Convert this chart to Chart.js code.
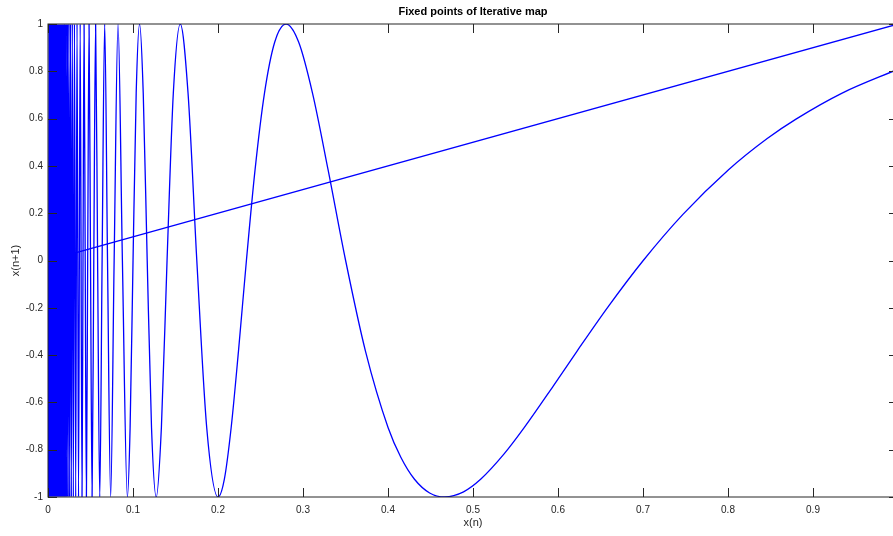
<!DOCTYPE html>
<html>
<head>
<meta charset="utf-8">
<script src="https://cdn.jsdelivr.net/npm/chart.js@4"></script>
<style>
    html, body { margin: 0; padding: 0; background: #fff; overflow: hidden; }
    #wrap { width: 893px; height: 536px; overflow: hidden; }
</style>
</head>
<body>
<div id="wrap"><canvas id="myChart" width="900" height="536"></canvas></div>
<script>
// x(n) values of the curve (ascending)
const mapX = [0.0006, 0.0012, 0.0018, 0.0024, 0.0030, 0.0036, 0.0042, 0.0048, 0.0054, 0.0060,
    0.0066, 0.0072, 0.0078, 0.0084, 0.0090, 0.0096, 0.0102, 0.0108, 0.0114, 0.0120,
    0.0126, 0.0132, 0.0138, 0.0144, 0.0150, 0.0156, 0.0162, 0.0168, 0.0174, 0.0180,
    0.0186, 0.0192,
    0.01973, 0.02030, 0.02090, 0.02155, 0.02223, 0.02296, 0.02374, 0.02457, 0.02546, 0.02643,
    0.02746, 0.02858, 0.02980, 0.03112, 0.03257, 0.03416, 0.03591, 0.03785, 0.04002,
    0.04119, 0.04244, 0.04377, 0.04518, 0.04669, 0.04830, 0.05002, 0.05187, 0.05387, 0.05602,
    0.05836, 0.06089, 0.06366, 0.06669, 0.07003, 0.07371, 0.07781, 0.08239, 0.08753, 0.09337,
    0.09659, 0.10004, 0.10375, 0.10774, 0.11205, 0.11671, 0.12179, 0.12732, 0.13339, 0.14006,
    0.14743, 0.15562, 0.16477, 0.17507, 0.18674, 0.20008,
    0.20749, 0.21547, 0.22409, 0.23343, 0.24358, 0.25465, 0.26677, 0.28011, 0.29486, 0.31124,
    0.32954, 0.35014, 0.37348, 0.40016, 0.41509, 0.43094, 0.44898, 0.46685, 0.48889, 0.50930,
    0.53659, 0.56022, 0.59459, 0.62247, 0.65910, 0.70028, 0.74698, 0.80032, 0.84615, 0.88000,
    0.93371, 1.00000];

// x(n+1) values of the curve
const mapY = [-1, 1, -1, 1, -1, 1, -1, 1, -1, 1,
    -1, 1, -1, 1, -1, 1, -1, 1, -1, 1,
    -1, 1, -1, 1, -1, 1, -1, 1, -1, 1,
    -1, 1,
    -1, 1, -1, 1, -1, 1, -1, 1, -1, 1,
    -1, 1, -1, 1, -1, 1, -1, 1, -1,
    0, 1, 0, -1, 0, 1, 0, -1, 0, 1,
    0, -1, 0, 1, 0, -1, 0, 1, 0, -1,
    -0.707, 0, 0.707, 1, 0.707, 0, -0.707, -1, -0.707, 0,
    0.707, 1, 0.707, 0, -0.707, -1,
    -0.924, -0.707, -0.383, 0, 0.383, 0.707, 0.924, 1, 0.924, 0.707,
    0.383, 0, -0.383, -0.707, -0.832, -0.924, -0.983, -1, -0.978, -0.924,
    -0.818, -0.707, -0.530, -0.383, -0.195, 0, 0.195, 0.383, 0.516, 0.598,
    0.707, 0.809];

// the diagonal x(n+1) = x(n)
const diagX = [0.03, 1];
const diagY = [0.03, 1];

// tick values
const xTicks = [0, 0.1, 0.2, 0.3, 0.4, 0.5, 0.6, 0.7, 0.8, 0.9, 1];
const yTicks = [-1, -0.8, -0.6, -0.4, -0.2, 0, 0.2, 0.4, 0.6, 0.8, 1];

const fontFamily = '"Liberation Sans", Arial, Helvetica, sans-serif';
const axisColor = '#262626';

// MATLAB style box with inward ticks on all four sides
const boxPlugin = {
    id: 'boxTicks',
    afterDatasetsDraw(chart) {
        const { ctx, chartArea: a, scales: { x, y } } = chart;
        ctx.save();
        ctx.strokeStyle = axisColor;
        ctx.lineWidth = 1;
        ctx.beginPath();
        xTicks.forEach(v => {
            const px = Math.round(x.getPixelForValue(v)) + 0.5;
            ctx.moveTo(px, a.bottom); ctx.lineTo(px, a.bottom - 9);
            ctx.moveTo(px, a.top); ctx.lineTo(px, a.top + 9);
        });
        yTicks.forEach(v => {
            const py = Math.round(y.getPixelForValue(v)) + 0.5;
            ctx.moveTo(a.left, py); ctx.lineTo(a.left + 9, py);
            ctx.moveTo(a.right, py); ctx.lineTo(a.right - 9, py);
        });
        ctx.stroke();
        ctx.strokeRect(a.left, a.top, a.right - a.left, a.bottom - a.top);
        ctx.restore();
    }
};

const ctx = document.getElementById('myChart').getContext('2d');

const myChart = new Chart(ctx, {
    type: 'scatter',
    data: {
        datasets: [
            {
                data: mapX.map((v, i) => ({ x: v, y: mapY[i] })),
                showLine: true,
                borderColor: '#0000ff',
                borderWidth: 1.3,
                pointRadius: 0,
                cubicInterpolationMode: 'monotone',
            },
            {
                data: diagX.map((v, i) => ({ x: v, y: diagY[i] })),
                showLine: true,
                borderColor: '#0000ff',
                borderWidth: 1.3,
                pointRadius: 0,
            },
        ],
    },
    options: {
        responsive: false,
        animation: false,
        devicePixelRatio: 1,
        layout: { padding: { top: 0, right: 2, bottom: 0, left: 0 } },
        plugins: {
            legend: { display: false },
            tooltip: { enabled: false },
            title: {
                display: true,
                text: 'Fixed points of Iterative map',
                fullSize: false,
                color: '#000',
                font: { family: fontFamily, size: 11, weight: 'bold' },
                padding: { top: 5, bottom: 5.8 },
            },
        },
        scales: {
            x: {
                type: 'linear',
                min: 0,
                max: 1,
                afterBuildTicks: s => { s.ticks = xTicks.map(v => ({ value: v })); },
                afterFit: s => { s.height = 39; s.paddingLeft = 0; s.paddingRight = 0; },
                grid: { drawOnChartArea: false, drawTicks: false },
                border: { display: false },
                ticks: {
                    color: axisColor,
                    padding: 7,
                    maxRotation: 0,
                    font: { family: fontFamily, size: 10 },
                    callback: v => String(Math.round(v * 10) / 10),
                },
                title: {
                    display: true,
                    text: 'x(n)',
                    color: axisColor,
                    font: { family: fontFamily, size: 11 },
                    padding: { top: 0, bottom: 6.4 },
                },
            },
            y: {
                type: 'linear',
                min: -1,
                max: 1,
                afterBuildTicks: s => { s.ticks = yTicks.map(v => ({ value: v })); },
                afterFit: s => { s.width = 48; s.paddingTop = 0; s.paddingBottom = 0; },
                grid: { drawOnChartArea: false, drawTicks: false },
                border: { display: false },
                ticks: {
                    color: axisColor,
                    padding: 5,
                    font: { family: fontFamily, size: 10 },
                    callback: v => String(Math.round(v * 10) / 10),
                },
                title: {
                    display: true,
                    text: 'x(n+1)',
                    color: axisColor,
                    font: { family: fontFamily, size: 11 },
                    padding: { top: 9, bottom: 0 },
                },
            },
        },
    },
    plugins: [boxPlugin],
});
</script>
</body>
</html>
